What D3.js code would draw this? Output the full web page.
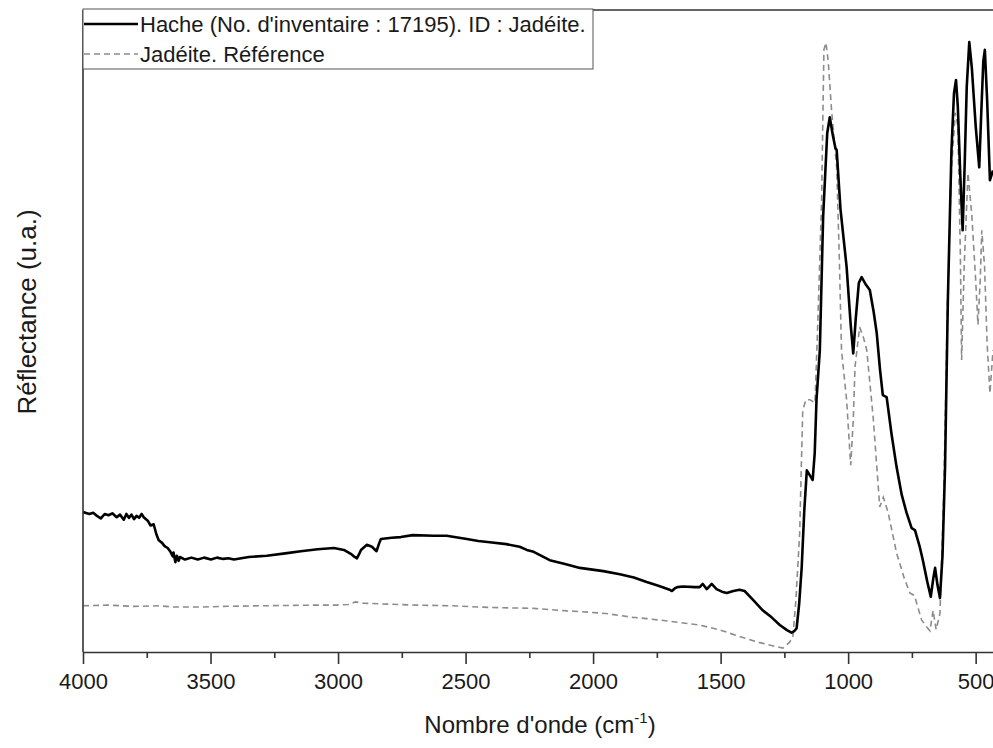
<!DOCTYPE html>
<html>
<head>
<meta charset="utf-8">
<script src="https://cdn.jsdelivr.net/npm/d3@7"></script>
<style>
  body { margin: 0; background: #fff; }
  text { font-family: "Liberation Sans", Arial, sans-serif; fill: #1a1a1a; }
</style>
</head>
<body>
<svg id="chart" width="993" height="748"></svg>
<script>
// Spectre de l'échantillon (nombre d'onde, réflectance u.a.)
const hache = [
  [4000, 21.8], [3975, 21.5], [3960, 21.7], [3945, 21.2], [3930, 20.8], [3915, 21.5],
  [3900, 21.3], [3885, 21.6], [3868, 21.0], [3855, 21.4], [3840, 20.6], [3830, 21.5],
  [3820, 20.9], [3810, 21.4], [3800, 20.7], [3790, 21.2], [3780, 20.9], [3770, 21.5],
  [3762, 21.0], [3745, 20.4], [3735, 19.7], [3723, 19.9], [3712, 18.3], [3703, 17.4],
  [3690, 17.0], [3680, 16.5], [3668, 16.2], [3657, 15.6], [3648, 14.9], [3645, 15.5],
  [3638, 14.0], [3632, 15.0], [3625, 14.2], [3620, 14.8], [3600, 14.4], [3575, 14.7],
  [3550, 14.4], [3525, 14.7], [3498, 14.4], [3475, 14.7], [3450, 14.5], [3430, 14.6],
  [3408, 14.4], [3350, 14.8], [3279, 15.0], [3200, 15.4], [3146, 15.7], [3080, 16.0],
  [3016, 16.2], [2977, 15.9], [2950, 15.3], [2935, 14.8], [2926, 14.6], [2918, 15.2],
  [2910, 15.9], [2887, 16.7], [2867, 16.4], [2849, 15.7], [2840, 16.8], [2832, 17.6],
  [2790, 17.8], [2754, 17.9], [2707, 18.2], [2625, 18.1], [2574, 18.1], [2495, 17.6],
  [2450, 17.3], [2405, 17.1], [2340, 16.8], [2288, 16.4], [2260, 15.9], [2233, 15.6],
  [2170, 14.3], [2110, 13.7], [2052, 13.1], [1960, 12.6], [1895, 12.1], [1840, 11.6],
  [1790, 10.9], [1750, 10.4], [1727, 10.1], [1700, 9.7], [1691, 9.5], [1680, 9.9],
  [1670, 10.1], [1648, 10.2], [1600, 10.1], [1582, 10.1], [1570, 10.6], [1554, 9.8],
  [1535, 10.6], [1516, 9.8], [1495, 9.4], [1476, 9.2], [1450, 9.5], [1426, 9.7],
  [1406, 9.5], [1370, 8.0], [1335, 6.5], [1300, 5.4], [1268, 4.2], [1240, 3.4],
  [1222, 3.0], [1210, 3.3], [1202, 3.7], [1192, 7.5], [1182, 13.2], [1172, 22.0],
  [1162, 28.3], [1150, 27.5], [1139, 26.8], [1131, 31.0], [1124, 39.3], [1111, 47.0],
  [1098, 67.8], [1082, 80.8], [1072, 83.3], [1060, 80.5], [1050, 78.5], [1045, 78.2],
  [1030, 69.0], [1006, 60.0], [990, 51.0], [980, 46.5], [970, 52.0], [958, 57.5],
  [947, 58.4], [930, 57.2], [915, 56.4], [900, 53.0], [888, 49.7], [875, 44.0],
  [864, 40.0], [849, 39.7], [830, 34.0], [810, 28.8], [790, 24.5], [771, 21.7],
  [751, 19.3], [738, 19.0], [720, 16.5], [707, 14.3], [690, 11.0], [676, 8.6],
  [666, 11.5], [659, 13.1], [650, 10.5], [640, 8.4], [630, 15.0], [620, 28.8],
  [609, 54.8], [595, 78.0], [585, 87.0], [577, 89.1], [570, 85.0], [560, 74.0],
  [551, 65.7], [543, 76.0], [535, 88.0], [525, 95.0], [515, 91.0], [500, 82.0],
  [486, 75.5], [478, 84.0], [470, 92.0], [464, 93.8], [455, 86.0], [444, 73.5],
  [432, 75.0]
];

// Spectre de référence de la jadéite
const reference = [
  [4000, 7.2], [3900, 7.3], [3800, 7.1], [3700, 7.2], [3644, 7.0], [3550, 7.0],
  [3450, 7.1], [3300, 7.2], [3100, 7.3], [3005, 7.3], [2960, 7.4], [2932, 7.8],
  [2900, 7.6], [2837, 7.5], [2691, 7.3], [2550, 7.2], [2444, 7.0], [2366, 6.9],
  [2232, 6.8], [2103, 6.4], [2052, 6.3], [1950, 6.0], [1844, 5.4], [1790, 5.2],
  [1700, 4.8], [1582, 4.2], [1500, 3.4], [1425, 2.4], [1350, 1.5], [1300, 1.0],
  [1256, 0.6], [1230, 1.5], [1217, 2.3], [1205, 8.0], [1190, 18.5], [1178, 37.7],
  [1165, 39.3], [1150, 39.3], [1130, 38.8], [1120, 50.0], [1104, 70.4], [1095, 93.8],
  [1087, 94.9], [1078, 92.0], [1065, 84.4], [1045, 75.5], [1035, 62.0], [1026, 47.0],
  [1006, 39.3], [990, 29.1], [980, 36.0], [973, 44.4], [955, 50.6], [940, 49.0],
  [927, 47.0], [902, 36.6], [876, 22.6], [862, 24.1], [843, 21.7], [810, 15.4],
  [780, 11.5], [758, 9.2], [740, 8.8], [712, 5.0], [690, 3.8], [679, 3.3],
  [667, 6.5], [655, 3.5], [640, 6.0], [625, 25.0], [610, 55.0], [595, 75.0],
  [580, 84.0], [570, 82.0], [560, 62.0], [555, 45.5], [545, 60.0], [530, 74.6],
  [515, 68.0], [500, 58.0], [491, 51.0], [482, 58.0], [476, 65.7], [465, 60.0],
  [455, 48.0], [444, 40.3], [432, 47.0]
];

const xTicks = [4000, 3500, 3000, 2500, 2000, 1500, 1000, 500];
const legendLabels = ["Hache (No. d'inventaire : 17195). ID : Jadéite.", "Jadéite. Référence"];

const svg = d3.select("#chart");
const margin = { top: 10, right: 0, bottom: 96, left: 83 };
const width = 993, height = 748;

const x = d3.scaleLinear().domain([4000, 432]).range([margin.left, width - margin.right]);
const y = d3.scaleLinear().domain([0, 100]).range([height - margin.bottom, margin.top]);

svg.append("clipPath").attr("id", "clip")
  .append("rect")
  .attr("x", margin.left).attr("y", margin.top)
  .attr("width", width - margin.left).attr("height", height - margin.bottom - margin.top);

const line = d3.line().x(d => x(d[0])).y(d => y(d[1]));

// Reference (dashed grey)
svg.append("path")
  .datum(reference)
  .attr("clip-path", "url(#clip)")
  .attr("fill", "none")
  .attr("stroke", "#8c8c8c")
  .attr("stroke-width", 1.6)
  .attr("stroke-dasharray", "6,4")
  .attr("d", line);

// Sample (solid black)
svg.append("path")
  .datum(hache)
  .attr("clip-path", "url(#clip)")
  .attr("fill", "none")
  .attr("stroke", "#000")
  .attr("stroke-width", 2.6)
  .attr("stroke-linejoin", "round")
  .attr("d", line);

// Frame: top and left
svg.append("line")
  .attr("x1", margin.left).attr("x2", width)
  .attr("y1", margin.top).attr("y2", margin.top)
  .attr("stroke", "#333").attr("stroke-width", 1.6);
svg.append("line")
  .attr("x1", margin.left).attr("x2", margin.left)
  .attr("y1", margin.top).attr("y2", height - margin.bottom)
  .attr("stroke", "#333").attr("stroke-width", 1.6);

// Bottom axis with minor ticks
const minor = d3.range(3750, 432, -500);
const xAxis = svg.append("g")
  .attr("transform", `translate(0,${height - margin.bottom})`);
xAxis.call(d3.axisBottom(x).tickValues(minor).tickSize(6).tickFormat(""))
  .call(g => g.select(".domain").remove());
xAxis.append("g")
  .call(d3.axisBottom(x).tickValues(xTicks).tickSize(12).tickSizeOuter(0)
    .tickPadding(9).tickFormat(d3.format("d")))
  .call(g => g.selectAll("text").style("font-size", "22px").attr("fill", "#1a1a1a"));
xAxis.selectAll("line").attr("stroke", "#333").attr("stroke-width", 1.6);
xAxis.selectAll(".domain").attr("stroke", "#333").attr("stroke-width", 1.6);

// Axis titles
const xt = svg.append("text")
  .attr("x", (margin.left + width) / 2 + 2)
  .attr("y", 733)
  .attr("text-anchor", "middle")
  .style("font-size", "24px");
xt.append("tspan").text("Nombre d'onde (cm");
xt.append("tspan").attr("dy", -10).style("font-size", "15px").text("-1");
xt.append("tspan").attr("dy", 10).text(")");

svg.append("text")
  .attr("transform", "translate(36,312) rotate(-90)")
  .attr("text-anchor", "middle")
  .style("font-size", "26px")
  .text("Réflectance (u.a.)");

// Legend
const legend = svg.append("g");
legend.append("rect")
  .attr("x", 83).attr("y", 9)
  .attr("width", 510).attr("height", 60)
  .attr("fill", "#fff")
  .attr("stroke", "#555").attr("stroke-width", 1);
const styles = [
  { stroke: "#000", width: 2.6, dash: null },
  { stroke: "#8c8c8c", width: 1.6, dash: "6,4" }
];
legendLabels.forEach((label, i) => {
  const cy = 24 + i * 30;
  legend.append("line")
    .attr("x1", 84).attr("x2", 138)
    .attr("y1", cy).attr("y2", cy)
    .attr("stroke", styles[i].stroke)
    .attr("stroke-width", styles[i].width)
    .attr("stroke-dasharray", styles[i].dash);
  legend.append("text")
    .attr("x", 140).attr("y", cy + 8)
    .style("font-size", "22px")
    .text(label);
});
</script>
</body>
</html>
